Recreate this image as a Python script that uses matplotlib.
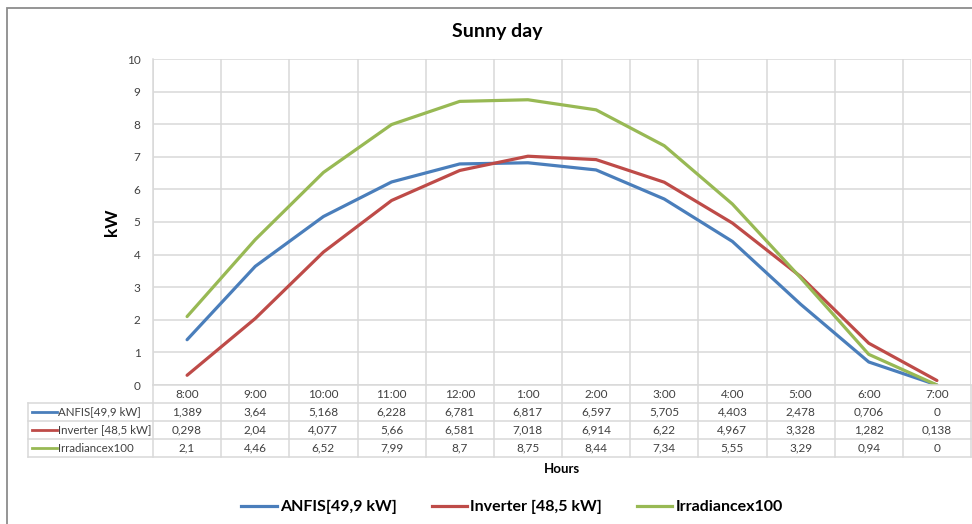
import matplotlib
matplotlib.use("Agg")
import matplotlib.pyplot as plt
from matplotlib.patches import Rectangle
from matplotlib.lines import Line2D

plt.rcParams['font.family'] = ['Lato', 'DejaVu Sans']

hours = ["8:00", "9:00", "10:00", "11:00", "12:00", "1:00", "2:00", "3:00",
         "4:00", "5:00", "6:00", "7:00"]
anfis = [1.389, 3.64, 5.168, 6.228, 6.781, 6.817, 6.597, 5.705, 4.403, 2.478, 0.706, 0]
inverter = [0.298, 2.04, 4.077, 5.66, 6.581, 7.018, 6.914, 6.22, 4.967, 3.328, 1.282, 0.138]
irradiance = [2.1, 4.46, 6.52, 7.99, 8.7, 8.75, 8.44, 7.34, 5.55, 3.29, 0.94, 0]

series_names = ["ANFIS[49,9 kW]", "Inverter [48,5 kW]", "Irradiancex100"]
series_vals = [anfis, inverter, irradiance]
colors = ["#4A7EBB", "#BE4B48", "#98B954"]

W, H = 972, 524
fig = plt.figure(figsize=(W / 100, H / 100), dpi=100)

def px(x0, y0, x1, y1):
    return [x0 / W, 1 - y1 / H, (x1 - x0) / W, (y1 - y0) / H]

grid_c = "#D9D9D9"
text_c = "#404040"

# outer frame
fig.patches.append(Rectangle((7 / W, -0.05), 1.1, 1 - 8 / H + 0.05, transform=fig.transFigure,
                             fill=False, edgecolor="#8C8C8C", linewidth=1.3))

ax = fig.add_axes(px(153, 59, 971, 385))
n = len(hours)
xs = list(range(n))
for name, vals, c in zip(series_names, series_vals, colors):
    ax.plot(xs, vals, color=c, linewidth=2.3, label=name, solid_capstyle='round')
ax.set_xlim(-0.5, n - 0.5)
ax.set_ylim(0, 10)
ax.set_yticks(range(0, 11))
ax.set_xticks([i - 0.5 for i in range(n + 1)])
ax.set_xticklabels([])
ax.tick_params(axis='x', length=0)
ax.tick_params(axis='y', length=0, labelsize=8.5, labelcolor=text_c, pad=9)
ax.grid(True, color=grid_c, linewidth=1.1)
ax.set_axisbelow(True)
for s in ["top", "right"]:
    ax.spines[s].set_visible(False)
ax.spines["left"].set_color(grid_c)
ax.spines["bottom"].set_color(grid_c)
ax.spines["left"].set_linewidth(1.1)
ax.spines["bottom"].set_linewidth(1.1)
ax.set_ylabel("kW", fontsize=12.5, fontweight='bold', color="#000000", labelpad=5)

# data table
col_w = (971 - 153) / n
lab_cols = (153 - 28) / col_w
tax = fig.add_axes(px(28, 385, 971, 457))
tax.set_xlim(-0.5 - lab_cols, n - 0.5)
tax.set_ylim(4, 0)
tax.axis('off')
xl = -0.5 - lab_cols
for i in range(n + 1):
    tax.plot([i - 0.5, i - 0.5], [0, 4], color=grid_c, lw=1.1, clip_on=False)
tax.plot([xl, xl], [1, 4], color=grid_c, lw=1.1, clip_on=False)
for r in range(1, 5):
    tax.plot([xl, n - 0.5], [r, r], color=grid_c, lw=1.1, clip_on=False)
for i, h in enumerate(hours):
    tax.text(i, 0.5, h, ha='center', va='center', fontsize=8.5, color=text_c)
for r, (name, vals, c) in enumerate(zip(series_names, series_vals, colors), start=1):
    lx0 = xl + 4 / col_w
    lx1 = xl + 29 / col_w
    tax.plot([lx0, lx1], [r + 0.5, r + 0.5], color=c, lw=2.0, clip_on=False)
    tax.text(lx1 + 1.5 / col_w, r + 0.5, name, ha='left', va='center', fontsize=8.3, color=text_c)
    for i, v in enumerate(vals):
        tax.text(i, r + 0.5, f"{v:g}".replace('.', ','), ha='center', va='center',
                 fontsize=8.5, color=text_c)

fig.text(562 / W, 1 - 469 / H, "Hours", ha='center', va='center', fontsize=9.5,
         fontweight='bold', color="#000000")
fig.text(497 / W, 1 - 32 / H, "Sunny day", ha='center', va='center', fontsize=14,
         fontweight='bold', color="#000000")

handles = [Line2D([0], [0], color=c, lw=2.3) for c in colors]
fig.legend(handles, series_names, loc='center', bbox_to_anchor=(512 / W, 1 - 507 / H),
           ncol=3, frameon=False, prop={'weight': 'bold', 'size': 11.5},
           handlelength=2.2, handletextpad=0.2, columnspacing=2.2)

fig.savefig("out.png", dpi=100)
